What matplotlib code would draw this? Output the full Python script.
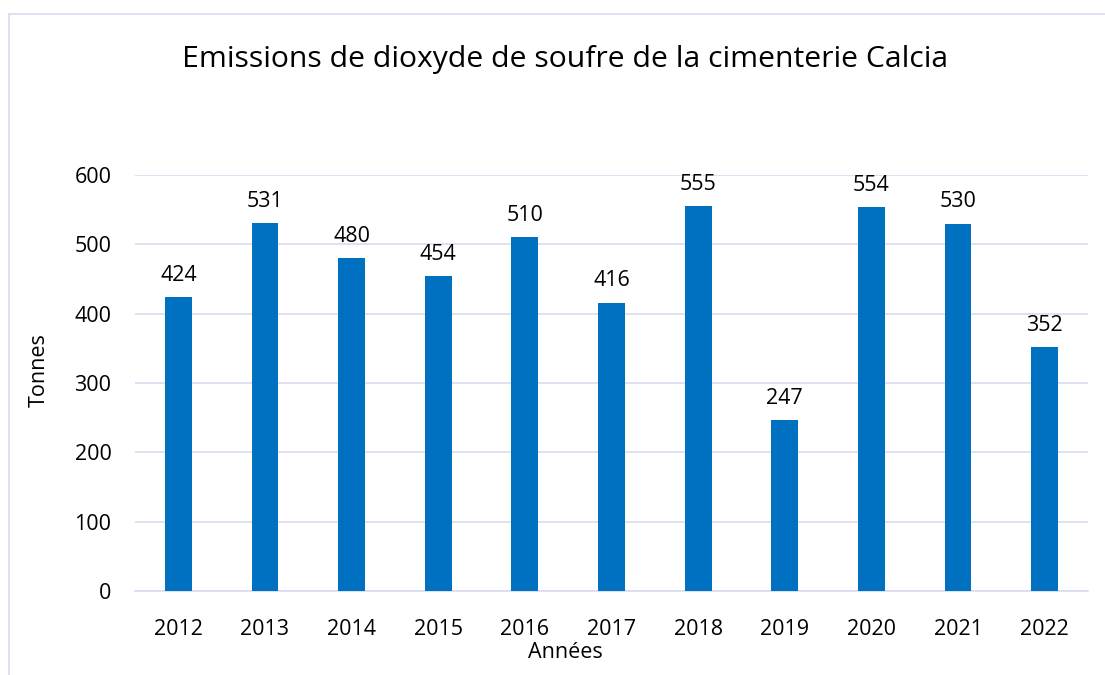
import matplotlib.pyplot as plt

plt.rcParams['font.family'] = ['Open Sans', 'DejaVu Sans']

# Data
annees = ['2012', '2013', '2014', '2015', '2016', '2017', '2018', '2019', '2020', '2021', '2022']
tonnes = [424, 531, 480, 454, 510, 416, 555, 247, 554, 530, 352]

bar_color = '#0070C0'
grid_color = '#D9DCF0'

fig = plt.figure(figsize=(11.05, 6.75), dpi=100)
ax = fig.add_axes([135 / 1105, 1 - 591 / 675, (1088 - 135) / 1105, (591 - 175) / 675])

x = range(len(annees))
ax.bar(x, tonnes, width=0.31, color=bar_color, zorder=3)

for xi, v in zip(x, tonnes):
    ax.annotate(str(v), (xi, v), xytext=(0, 8), textcoords='offset points',
                ha='center', va='bottom', fontsize=15.5, color='#000000')

ax.set_xlim(-0.5, len(annees) - 0.5)
ax.set_ylim(0, 600)
ax.set_yticks(range(0, 601, 100))
ax.set_xticks(list(x))
ax.set_xticklabels(annees)
ax.tick_params(axis='both', length=0, labelsize=15.5, colors='#000000')
ax.tick_params(axis='y', pad=17)
ax.tick_params(axis='x', pad=20)
ax.grid(axis='y', color=grid_color, linewidth=1.2, zorder=0)
for side in ['top', 'right', 'left']:
    ax.spines[side].set_visible(False)
ax.spines['bottom'].set_color(grid_color)
ax.spines['bottom'].set_linewidth(1.2)

fig.text(565 / 1105, 1 - 60 / 675, 'Emissions de dioxyde de soufre de la cimenterie Calcia',
         ha='center', va='center', fontsize=21.7)
fig.text(39 / 1105, 1 - 370 / 675, 'Tonnes', rotation=90, ha='center', va='center', fontsize=15.5)
fig.text(565 / 1105, 1 - 653 / 675, 'Années', ha='center', va='center', fontsize=15.5)

# frame lines (top and left)
fig.add_artist(plt.Line2D([9 / 1105, 9 / 1105], [0, 1 - 14 / 675], color=grid_color, linewidth=1.2))
fig.add_artist(plt.Line2D([9 / 1105, 1], [1 - 14 / 675, 1 - 14 / 675], color=grid_color, linewidth=1.2))

fig.savefig('out.png', dpi=100)
